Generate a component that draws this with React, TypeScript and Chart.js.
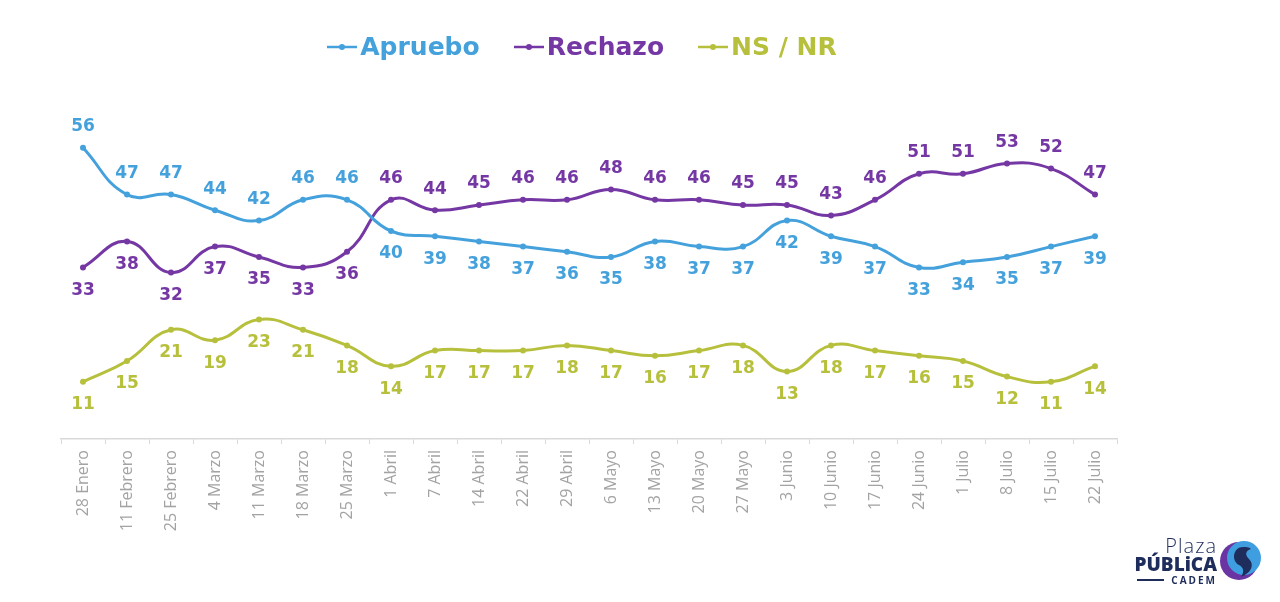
import React, { useEffect, useRef } from "react";
import { Chart, registerables } from "chart.js";

Chart.register(...registerables);

const categories = [
  "28 Enero", "11 Febrero", "25 Febrero", "4 Marzo", "11 Marzo", "18 Marzo",
  "25 Marzo", "1 Abril", "7 Abril", "14 Abril", "22 Abril", "29 Abril",
  "6 Mayo", "13 Mayo", "20 Mayo", "27 Mayo", "3 Junio", "10 Junio",
  "17 Junio", "24 Junio", "1 Julio", "8 Julio", "15 Julio", "22 Julio",
];
const apruebo = [56, 47, 47, 44, 42, 46, 46, 40, 39, 38, 37, 36, 35, 38, 37, 37, 42, 39, 37, 33, 34, 35, 37, 39];
const rechazo = [33, 38, 32, 37, 35, 33, 36, 46, 44, 45, 46, 46, 48, 46, 46, 45, 45, 43, 46, 51, 51, 53, 52, 47];
const nsnr = [11, 15, 21, 19, 23, 21, 18, 14, 17, 17, 17, 18, 17, 16, 17, 18, 13, 18, 17, 16, 15, 12, 11, 14];

const seriesNames = ["Apruebo", "Rechazo", "NS / NR"];
const seriesColors = ["#44a1dc", "#7537a3", "#b7c03c"];

const BOLD_FONT = "'DejaVu Sans', 'Noto Sans', sans-serif";
const TICK_FONT = "'Open Sans', 'Noto Sans', sans-serif";

const labelPlugin = {
  id: "valueLabels",
  afterDatasetsDraw(chart: any) {
    const ctx = chart.ctx;
    ctx.save();
    ctx.font = `bold 17px ${BOLD_FONT}`;
    ctx.textAlign = "center";
    ctx.textBaseline = "middle";
    chart.data.datasets.forEach((ds: any, di: number) => {
      const meta = chart.getDatasetMeta(di);
      ctx.fillStyle = ds.borderColor;
      meta.data.forEach((pt: any, i: number) => {
        const v = ds.data[i];
        let above = false;
        if (di === 0) above = v > rechazo[i];
        else if (di === 1) above = v > apruebo[i];
        const y = above ? pt.y - 21 : pt.y + 23;
        ctx.fillText(String(v), pt.x, y);
      });
    });
    ctx.restore();
  },
};

function LegendMarker({ color }: { color: string }) {
  return (
    <svg width="30" height="8" style={{ marginRight: 3 }}>
      <line x1="0" y1="4" x2="30" y2="4" stroke={color} strokeWidth="2.5" />
      <circle cx="15" cy="4" r="3" fill={color} />
    </svg>
  );
}

export default function App() {
  const canvasRef = useRef<HTMLCanvasElement | null>(null);

  useEffect(() => {
    if (!canvasRef.current) return;
    const values = [apruebo, rechazo, nsnr];
    const chart = new Chart(canvasRef.current, {
      type: "line",
      data: {
        labels: categories,
        datasets: values.map((d, i) => ({
          label: seriesNames[i],
          data: d,
          borderColor: seriesColors[i],
          backgroundColor: seriesColors[i],
          borderWidth: 3,
          pointRadius: 3,
          pointBackgroundColor: seriesColors[i],
          pointBorderWidth: 0,
          tension: 0.45,
          clip: false as any,
        })),
      },
      options: {
        responsive: false,
        animation: false,
        layout: { padding: { top: 127, left: 61, right: 163, bottom: 0 } },
        plugins: {
          legend: { display: false },
          tooltip: { enabled: false },
        },
        scales: {
          x: {
            offset: true,
            afterFit: (s: any) => {
              s.height = 163;
            },
            grid: {
              drawOnChartArea: false,
              drawTicks: true,
              tickLength: 5,
              color: "#d9d9d9",
              offset: true,
            },
            border: { color: "#d9d9d9", width: 1.5 },
            ticks: {
              minRotation: 90,
              maxRotation: 90,
              autoSkip: false,
              padding: 6,
              color: "#a3a3a3",
              font: { family: TICK_FONT, size: 16, weight: 400 as any },
            },
          },
          y: {
            display: false,
            min: 0,
            max: 60,
          },
        },
      },
      plugins: [labelPlugin],
    });
    return () => chart.destroy();
  }, []);

  return (
    <div
      style={{
        position: "absolute",
        left: 0,
        top: 0,
        width: 1280,
        height: 602,
        background: "#ffffff",
        overflow: "hidden",
      }}
    >
      <canvas ref={canvasRef} width={1280} height={602} style={{ position: "absolute", left: 0, top: 0 }} />
      <div
        style={{
          position: "absolute",
          left: 0,
          top: 30,
          width: 1164,
          display: "flex",
          justifyContent: "center",
          alignItems: "center",
          gap: 34,
          fontFamily: BOLD_FONT,
          fontWeight: 700,
          fontSize: 25,
          lineHeight: "34px",
        }}
      >
        {seriesNames.map((n, i) => (
          <div key={n} style={{ display: "flex", alignItems: "center", color: seriesColors[i] }}>
            <LegendMarker color={seriesColors[i]} />
            <span>{n}</span>
          </div>
        ))}
      </div>
      <div
        style={{
          position: "absolute",
          left: 1120,
          top: 536,
          width: 97,
          textAlign: "right",
          color: "#1f2d5c",
          fontFamily: TICK_FONT,
          lineHeight: 1,
        }}
      >
        <div style={{ fontSize: 20, fontWeight: 300, letterSpacing: 1 }}>Plaza</div>
        <div style={{ fontSize: 19, fontWeight: 800, marginTop: -1 }}>PÚBLiCA</div>
        <div style={{ display: "flex", justifyContent: "flex-end", alignItems: "center", marginTop: 1 }}>
          <div style={{ width: 27, height: 2, background: "#1f2d5c", marginRight: 7 }} />
          <div style={{ fontSize: 10, fontWeight: 700, letterSpacing: 2 }}>CADEM</div>
        </div>
      </div>
      <svg style={{ position: "absolute", left: 1219, top: 539 }} width="46" height="44" viewBox="0 0 46 44">
        <ellipse cx="20" cy="22" rx="19" ry="19" fill="#6a35a3" />
        <circle cx="25" cy="19" r="17" fill="#3f9ee0" />
        <path d="M24 8 C14 8 12 22 20 26 C24 28 26 32 22 38 C32 34 36 26 30 20 C26 16 26 12 32 10 C30 8 27 8 24 8 Z" fill="#1f2d5c" />
      </svg>
    </div>
  );
}
